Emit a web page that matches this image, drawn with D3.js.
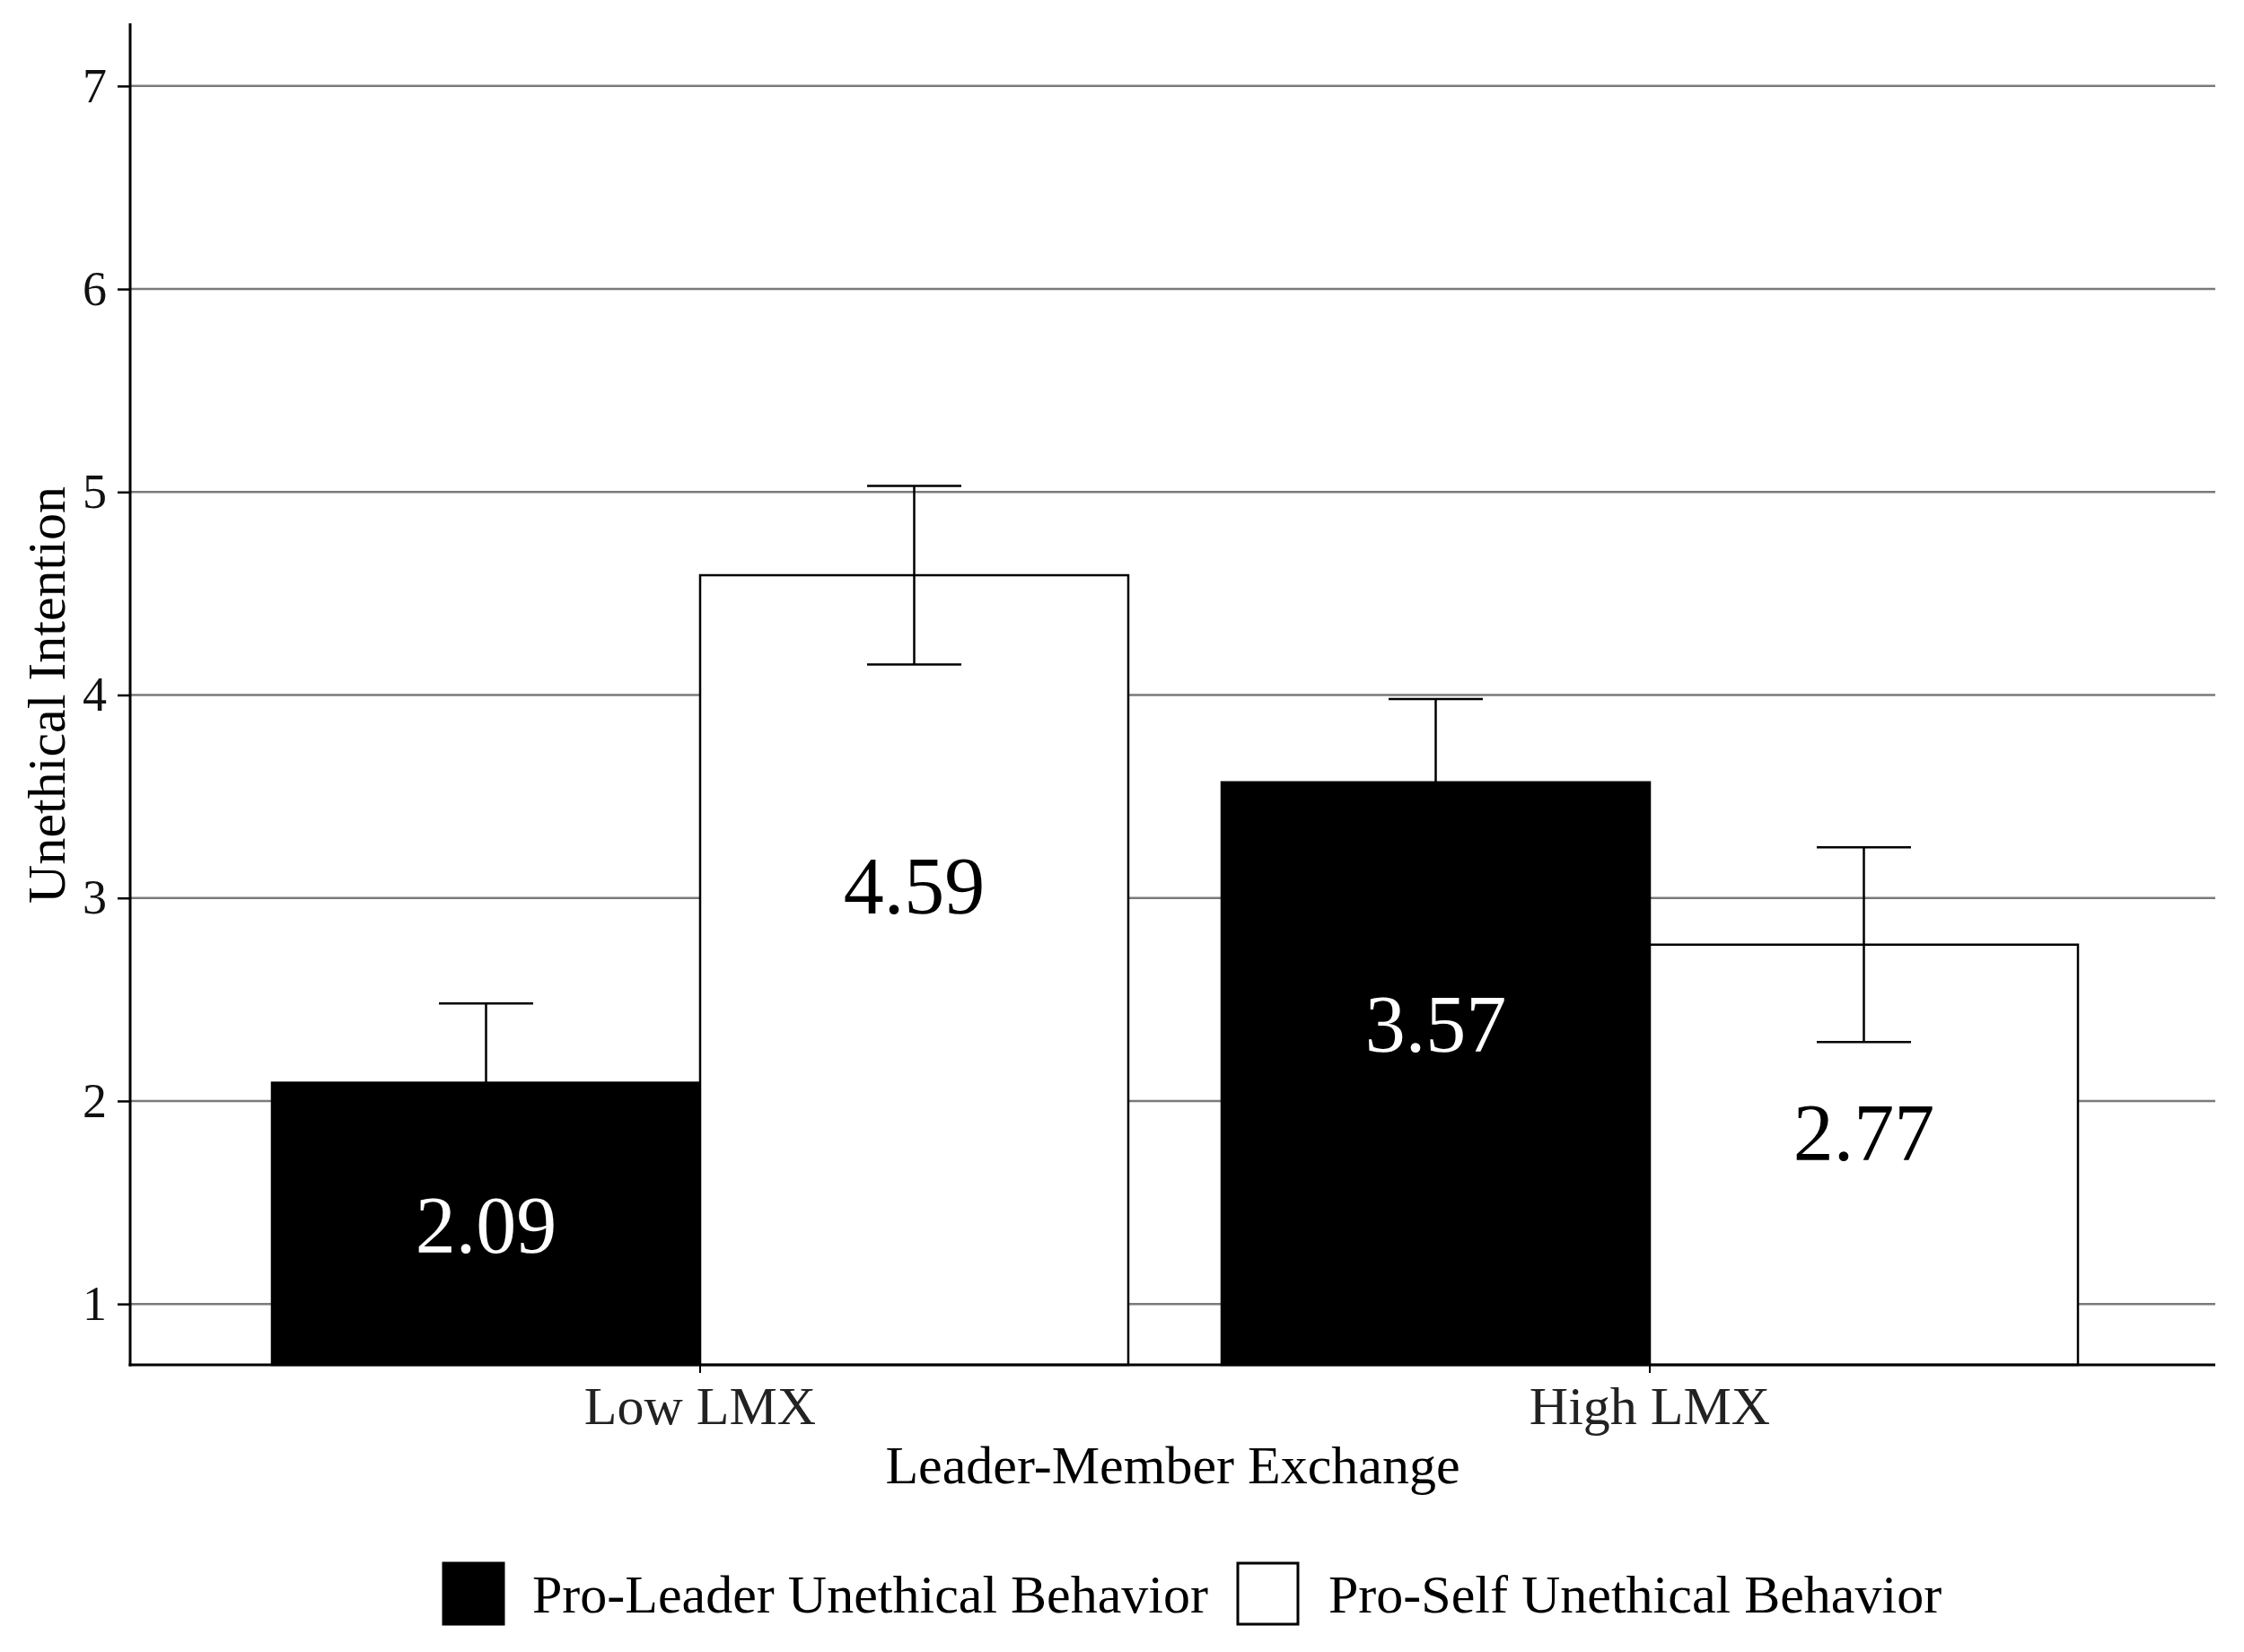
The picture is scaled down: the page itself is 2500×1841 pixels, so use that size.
<!DOCTYPE html>
<html>
<head>
<meta charset="utf-8">
<script src="https://cdn.jsdelivr.net/npm/d3@7"></script>
<style>
  html, body { margin: 0; padding: 0; background: #fff; }
  svg { display: block; font-family: "Liberation Serif", "Times New Roman", serif; }
</style>
</head>
<body>
<svg id="chart" width="2500" height="1841"></svg>
<script>
// ---- data ----
const categories = ["Low LMX", "High LMX"];
const seriesNames = ["Pro-Leader Unethical Behavior", "Pro-Self Unethical Behavior"];
const seriesColors = ["#000000", "#ffffff"];
const proLeaderMeans = [2.09, 3.57];
const proLeaderUpper = [2.48, 3.98];
const proLeaderLower = [1.70, 3.16];
const proSelfMeans = [4.59, 2.77];
const proSelfUpper = [5.03, 3.25];
const proSelfLower = [4.15, 2.29];
const yTicks = [1, 2, 3, 4, 5, 6, 7];
const yTitle = "Unethical Intention";
const xTitle = "Leader-Member Exchange";

(function () {
const seriesMeans = [proLeaderMeans, proSelfMeans];
const seriesUpper = [proLeaderUpper, proSelfUpper];
const seriesLower = [proLeaderLower, proSelfLower];

// ---- layout ----
const mLeft = 145, mRight = 2468, mTop = 28, mBottom = 1521;
const svg = d3.select("#chart");

const y = d3.scaleLinear().domain([0.7, 7.3]).range([mBottom, mTop]);
const x0 = d3.scaleBand().domain(categories).range([mLeft + 5, mRight])
  .paddingInner(0.0983).paddingOuter(0.1446);
const x1 = d3.scaleBand().domain(seriesNames).range([0, x0.bandwidth()]).padding(0);

// gridlines
svg.append("g").selectAll("line").data(yTicks).join("line")
  .attr("x1", mLeft).attr("x2", mRight)
  .attr("y1", d => y(d)).attr("y2", d => y(d))
  .attr("stroke", "#7a7a7a").attr("stroke-width", 2.5);

// bars
const rows = [];
categories.forEach((c, i) => {
  seriesNames.forEach((s, j) => {
    rows.push({cat: c, ser: s, j, v: seriesMeans[j][i], hi: seriesUpper[j][i], lo: seriesLower[j][i]});
  });
});

svg.append("g").selectAll("rect").data(rows).join("rect")
  .attr("x", d => x0(d.cat) + x1(d.ser))
  .attr("y", d => y(d.v))
  .attr("width", x1.bandwidth())
  .attr("height", d => y(0.7) - y(d.v))
  .attr("fill", d => seriesColors[d.j])
  .attr("stroke", "#000").attr("stroke-width", 2.5);

// error bars
const capW = x1.bandwidth() * 0.22;
const errG = svg.append("g").attr("stroke", "#000").attr("stroke-width", 2.5);
rows.forEach(d => {
  const cx = x0(d.cat) + x1(d.ser) + x1.bandwidth() / 2;
  errG.append("line").attr("x1", cx).attr("x2", cx).attr("y1", y(d.hi)).attr("y2", y(d.lo));
  errG.append("line").attr("x1", cx - capW / 2).attr("x2", cx + capW / 2).attr("y1", y(d.hi)).attr("y2", y(d.hi));
  errG.append("line").attr("x1", cx - capW / 2).attr("x2", cx + capW / 2).attr("y1", y(d.lo)).attr("y2", y(d.lo));
});

// value labels
svg.append("g").selectAll("text").data(rows).join("text")
  .attr("x", d => x0(d.cat) + x1(d.ser) + x1.bandwidth() / 2)
  .attr("y", d => y(d.v * 0.667))
  .attr("dy", "0.35em")
  .attr("text-anchor", "middle")
  .attr("font-size", 90)
  .attr("fill", d => d.j === 0 ? "#fff" : "#000")
  .text(d => d.v.toFixed(2));

// y axis
const yAxis = d3.axisLeft(y).tickValues(yTicks).tickSize(14).tickPadding(12).tickFormat(d3.format("d"));
const yg = svg.append("g").attr("transform", `translate(${mLeft},0)`).call(yAxis);
yg.select(".domain").remove();
yg.selectAll(".tick line").attr("stroke", "#000").attr("stroke-width", 2.5);
yg.selectAll(".tick text").attr("font-size", 54).attr("font-family", "Liberation Serif").attr("fill", "#111");
svg.append("line").attr("x1", mLeft).attr("x2", mLeft).attr("y1", mTop - 2).attr("y2", mBottom + 1.5)
  .attr("stroke", "#000").attr("stroke-width", 3);

// x axis
const xAxis = d3.axisBottom(x0).tickSize(9).tickPadding(14);
const xg = svg.append("g").attr("transform", `translate(0,${mBottom})`).call(xAxis);
xg.select(".domain").remove();
xg.selectAll(".tick line").attr("stroke", "#000").attr("stroke-width", 2);
xg.selectAll(".tick text").attr("font-size", 60).attr("font-family", "Liberation Serif").attr("fill", "#222");
svg.append("line").attr("x1", mLeft - 1.5).attr("x2", mRight).attr("y1", mBottom).attr("y2", mBottom)
  .attr("stroke", "#000").attr("stroke-width", 3);

// axis titles
svg.append("text")
  .attr("x", (mLeft + mRight) / 2).attr("y", 1653)
  .attr("text-anchor", "middle").attr("font-size", 60).attr("fill", "#000")
  .text(xTitle);
svg.append("text")
  .attr("transform", `translate(72,${(mTop + mBottom) / 2}) rotate(-90)`)
  .attr("text-anchor", "middle").attr("font-size", 60).attr("fill", "#000")
  .text(yTitle);

// legend
const legendItems = [
  {name: seriesNames[0], color: seriesColors[0], sx: 494, tx: 593},
  {name: seriesNames[1], color: seriesColors[1], sx: 1379, tx: 1480}
];
const lg = svg.append("g");
legendItems.forEach(it => {
  lg.append("rect").attr("x", it.sx).attr("y", 1742).attr("width", 67).attr("height", 68)
    .attr("fill", it.color).attr("stroke", "#000").attr("stroke-width", 3);
  lg.append("text").attr("x", it.tx).attr("y", 1797).attr("font-size", 60).attr("fill", "#000")
    .text(it.name);
});
})();
</script>
</body>
</html>
